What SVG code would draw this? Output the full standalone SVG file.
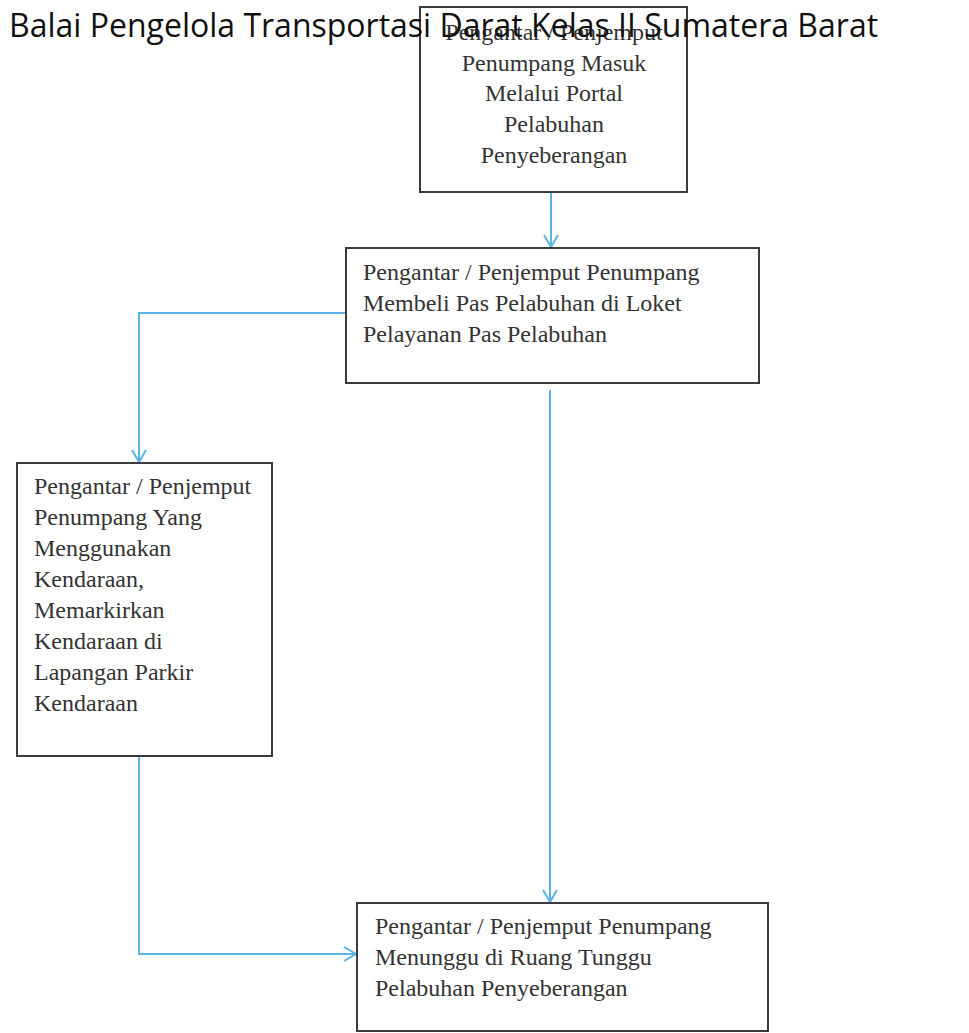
<svg xmlns="http://www.w3.org/2000/svg" width="969" height="1033" viewBox="0 0 969 1033">
<style>
.box{fill:#fff;stroke:#3a3a3a;stroke-width:2}
.t{font-family:"Liberation Serif","Times New Roman",serif;font-size:24px;fill:#333}
.c{text-anchor:middle}
.con{fill:none;stroke:#5ab4e0;stroke-width:2}
.title{font-family:"Open Sans","Noto Sans",sans-serif;font-size:32px;fill:#111}
</style>
<defs>
<marker id="arr" markerUnits="userSpaceOnUse" markerWidth="16" markerHeight="16" refX="13" refY="8" orient="auto">
<path d="M1,1 L13,8 L1,15" fill="none" stroke="#5ab4e0" stroke-width="2"/>
</marker>
</defs>
<rect width="969" height="1033" fill="#fff"/>
<g id="connectors">
<path class="con" d="M551,192 L551,247" marker-end="url(#arr)"/>
<path class="con" d="M346,313 L139,313 L139,462" marker-end="url(#arr)"/>
<path class="con" d="M550,390 L550,902" marker-end="url(#arr)"/>
<path class="con" d="M139,757 L139,954 L356,954" marker-end="url(#arr)"/>
</g>
<g id="node1">
<rect class="box" x="420" y="7" width="267" height="185"/>
<text class="t c" x="554" y="40">Pengantar / Penjemput</text>
<text class="t c" x="554" y="71">Penumpang Masuk</text>
<text class="t c" x="554" y="101">Melalui Portal</text>
<text class="t c" x="554" y="132">Pelabuhan</text>
<text class="t c" x="554" y="163">Penyeberangan</text>
</g>
<g id="node2">
<rect class="box" x="346" y="248" width="413" height="135"/>
<text class="t" x="363" y="280">Pengantar / Penjemput Penumpang</text>
<text class="t" x="363" y="311">Membeli Pas Pelabuhan di Loket</text>
<text class="t" x="363" y="342">Pelayanan Pas Pelabuhan</text>
</g>
<g id="node3">
<rect class="box" x="17" y="463" width="255" height="293"/>
<text class="t" x="34" y="494">Pengantar / Penjemput</text>
<text class="t" x="34" y="525">Penumpang Yang</text>
<text class="t" x="34" y="556">Menggunakan</text>
<text class="t" x="34" y="587">Kendaraan,</text>
<text class="t" x="34" y="618">Memarkirkan</text>
<text class="t" x="34" y="649">Kendaraan di</text>
<text class="t" x="34" y="680">Lapangan Parkir</text>
<text class="t" x="34" y="711">Kendaraan</text>
</g>
<g id="node4">
<rect class="box" x="357" y="903" width="411" height="128"/>
<text class="t" x="375" y="934">Pengantar / Penjemput Penumpang</text>
<text class="t" x="375" y="965">Menunggu di Ruang Tunggu</text>
<text class="t" x="375" y="996">Pelabuhan Penyeberangan</text>
</g>
<g id="title">
<text class="title" x="9" y="37">Balai Pengelola Transportasi Darat Kelas II Sumatera Barat</text>
</g>
</svg>
